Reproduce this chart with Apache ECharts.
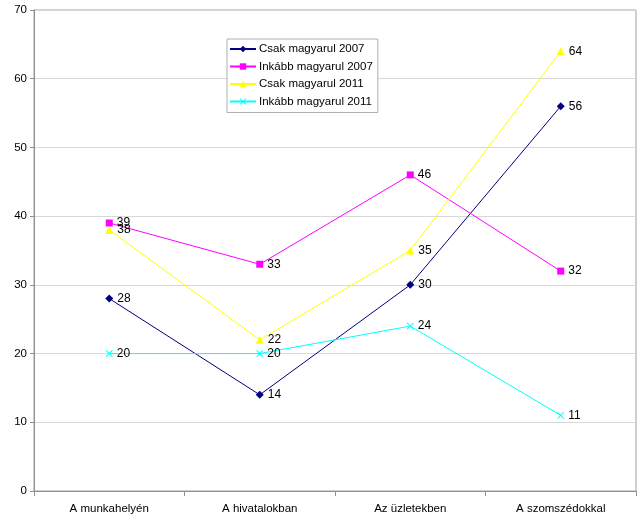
<!DOCTYPE html>
<html><head><meta charset="utf-8">
<script src="https://cdn.jsdelivr.net/npm/echarts@6/dist/echarts.min.js"></script>
<style>html,body{margin:0;padding:0;background:#fff}#c{width:640px;height:518px}</style>
</head><body><div id="c"></div>
<script>
const categories = ['A munkahelyén', 'A hivatalokban', 'Az üzletekben', 'A szomszédokkal'];
const seriesNames = ['Csak magyarul 2007', 'Inkább magyarul 2007', 'Csak magyarul 2011', 'Inkább magyarul 2011'];
const csak2007 = [28, 14, 30, 56];
const inkabb2007 = [39, 33, 46, 32];
const csak2011 = [38, 22, 35, 64];
const inkabb2011 = [20, 20, 24, 11];
const yTicks = [0, 10, 20, 30, 40, 50, 60, 70];

const xPath = 'path://M0,1 L1,0 L5,4 L9,0 L10,1 L6,5 L10,9 L9,10 L5,6 L1,10 L0,9 L4,5 Z';
const font = 'Liberation Sans, Arial, sans-serif';
function mk(name, data, color, symbol, size) {
  return {
    name, type: 'line', data, symbol, symbolSize: size,
    lineStyle: { color, width: 1 },
    itemStyle: { color, borderWidth: 0 },
    label: { show: true, position: 'right', distance: 4, color: '#000', fontSize: 12, fontFamily: font },
    emphasis: { disabled: true },
    animation: false
  };
}
const chart = echarts.init(document.getElementById('c'));
chart.setOption({
  animation: false,
  backgroundColor: '#fff',
  grid: { left: 34, right: 4, top: 10, bottom: 27, show: true, borderColor: '#a0a0a0', borderWidth: 1 },
  legend: {
    orient: 'vertical', left: 227, top: 39, itemGap: 3.5, itemWidth: 26, itemHeight: 8,
    padding: [3, 5, 4, 2],
    borderColor: '#b0b0b0', borderWidth: 1, backgroundColor: '#fff',
    textStyle: { fontSize: 11.5, lineHeight: 14, fontFamily: font, color: '#000', padding: [0, 0, 0, -2] },
    data: seriesNames
  },
  xAxis: {
    type: 'category', data: categories, boundaryGap: true,
    axisLine: { lineStyle: { color: '#909090' } },
    axisTick: { show: true, length: 5, lineStyle: { color: '#909090' } },
    axisLabel: { color: '#000', fontSize: 11.5, fontFamily: font, margin: 12 }
  },
  yAxis: {
    type: 'value', min: yTicks[0], max: yTicks[yTicks.length - 1], interval: 10,
    axisLine: { show: true, lineStyle: { color: '#909090' } },
    axisTick: { show: true, length: 4, lineStyle: { color: '#909090' } },
    splitLine: { lineStyle: { color: '#d8d8d8' } },
    axisLabel: { color: '#000', fontSize: 11.5, fontFamily: font, margin: 7 }
  },
  series: [
    mk(seriesNames[0], csak2007, '#000080', 'diamond', 8),
    mk(seriesNames[1], inkabb2007, '#ff00ff', 'rect', 7),
    mk(seriesNames[2], csak2011, '#ffff00', 'triangle', 8),
    mk(seriesNames[3], inkabb2011, '#00ffff', xPath, 7)
  ]
});
</script></body></html>
